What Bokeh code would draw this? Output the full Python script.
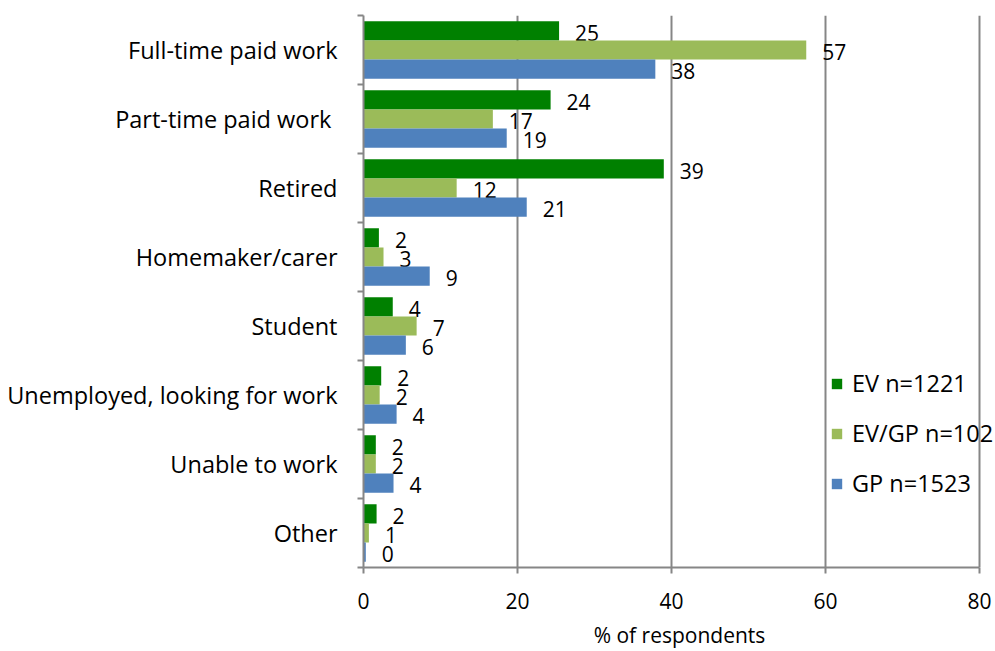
from bokeh.plotting import figure
from bokeh.models import ColumnDataSource, FixedTicker, Legend, LegendItem, Range1d
from bokeh.embed import file_html
from bokeh.resources import INLINE
from bokeh.core.properties import value

categories = ["Full-time paid work", "Part-time paid work ", "Retired", "Homemaker/carer",
              "Student", "Unemployed, looking for work", "Unable to work", "Other"]
ev_values = [25.4, 24.3, 39.0, 2.0, 3.8, 2.3, 1.6, 1.7]
evgp_values = [57.5, 16.8, 12.1, 2.6, 6.9, 2.1, 1.6, 0.7]
gp_values = [37.9, 18.6, 21.2, 8.6, 5.5, 4.3, 3.9, 0.3]
ev_labels = ["25", "24", "39", "2", "4", "2", "2", "2"]
evgp_labels = ["57", "17", "12", "3", "7", "2", "2", "1"]
gp_labels = ["38", "19", "21", "9", "6", "4", "4", "0"]
series_names = ["EV n=1221", "EV/GP n=102", "GP n=1523"]
x_ticks = [0, 20, 40, 60, 80]
x_title = "% of respondents"

colors = ["#008000", "#9BBB59", "#4F81BD"]
FONT = "Open Sans"
n = len(categories)
centers = [n - 1 - i + 0.5 for i in range(n)]
bar_h = 0.278
offsets = [bar_h, 0.0, -bar_h]

W, H = 995, 651
left, top, bottom = 363, 15, 81
axis_px = 616  # pixels for 0..80
x_end = x_ticks[-1] * (W - left) / axis_px

p = figure(width=W, height=H, output_backend="svg", toolbar_location=None,
           x_range=Range1d(0, x_end), y_range=Range1d(0, n),
           min_border_left=left, min_border_right=0, min_border_top=top, min_border_bottom=bottom)
p.outline_line_color = None
p.background_fill_color = "white"

renderers = []
for vals, labs, col, off in zip([ev_values, evgp_values, gp_values],
                                [ev_labels, evgp_labels, gp_labels], colors, offsets):
    src = ColumnDataSource(dict(y=[c + off for c in centers], right=vals, lab=labs))
    r = p.hbar(y="y", left=0, right="right", height=bar_h, source=src,
               fill_color=col, line_color=None)
    renderers.append(r)
    p.text(x="right", y="y", text="lab", source=src, x_offset=16, y_offset=2,
           text_baseline="middle", text_align="left", text_font=value(FONT),
           text_font_size="21px", text_color="#000000")

# x axis
p.xaxis.ticker = FixedTicker(ticks=x_ticks)
p.xaxis.bounds = (x_ticks[0], x_ticks[-1])
p.xaxis.axis_line_color = "#868686"
p.xaxis.axis_line_width = 2
p.xaxis.major_tick_line_color = "#868686"
p.xaxis.major_tick_line_width = 2
p.xaxis.major_tick_in = 0
p.xaxis.major_tick_out = 6
p.xaxis.minor_tick_line_color = None
p.xaxis.major_label_text_font = FONT
p.xaxis.major_label_text_font_size = "21px"
p.xaxis.major_label_text_color = "#000000"
p.xaxis.major_label_standoff = 19
p.xaxis.axis_label = x_title
p.xaxis.axis_label_text_font = FONT
p.xaxis.axis_label_text_font_size = "21px"
p.xaxis.axis_label_text_font_style = "normal"
p.xaxis.axis_label_text_color = "#000000"
p.xaxis.axis_label_standoff = 9

# y axis
p.yaxis.ticker = FixedTicker(ticks=centers, minor_ticks=list(range(n + 1)))
p.yaxis.major_label_overrides = {c: categories[i] for i, c in enumerate(centers)}
p.yaxis.major_tick_line_color = None
p.yaxis.minor_tick_line_color = "#868686"
p.yaxis.minor_tick_line_width = 2
p.yaxis.minor_tick_in = 0
p.yaxis.minor_tick_out = 6
p.yaxis.axis_line_color = "#868686"
p.yaxis.axis_line_width = 2
p.yaxis.major_label_text_font = FONT
p.yaxis.major_label_text_font_size = "23.5px"
p.yaxis.major_label_text_color = "#000000"
p.yaxis.major_label_standoff = 20

p.xgrid.ticker = FixedTicker(ticks=x_ticks[1:])
p.xgrid.grid_line_color = "#868686"
p.xgrid.grid_line_width = 2
p.ygrid.grid_line_color = None

legend = Legend(items=[LegendItem(label=nm, renderers=[r]) for nm, r in zip(series_names, renderers)],
                location=(467, 68), glyph_width=13, glyph_height=13, spacing=18,
                label_text_font=FONT, label_text_font_size="23.5px", label_text_color="#000000",
                border_line_color=None, background_fill_alpha=0, padding=0, margin=0,
                label_standoff=9)
p.add_layout(legend)

open("out.html", "w").write(file_html(p, INLINE))
